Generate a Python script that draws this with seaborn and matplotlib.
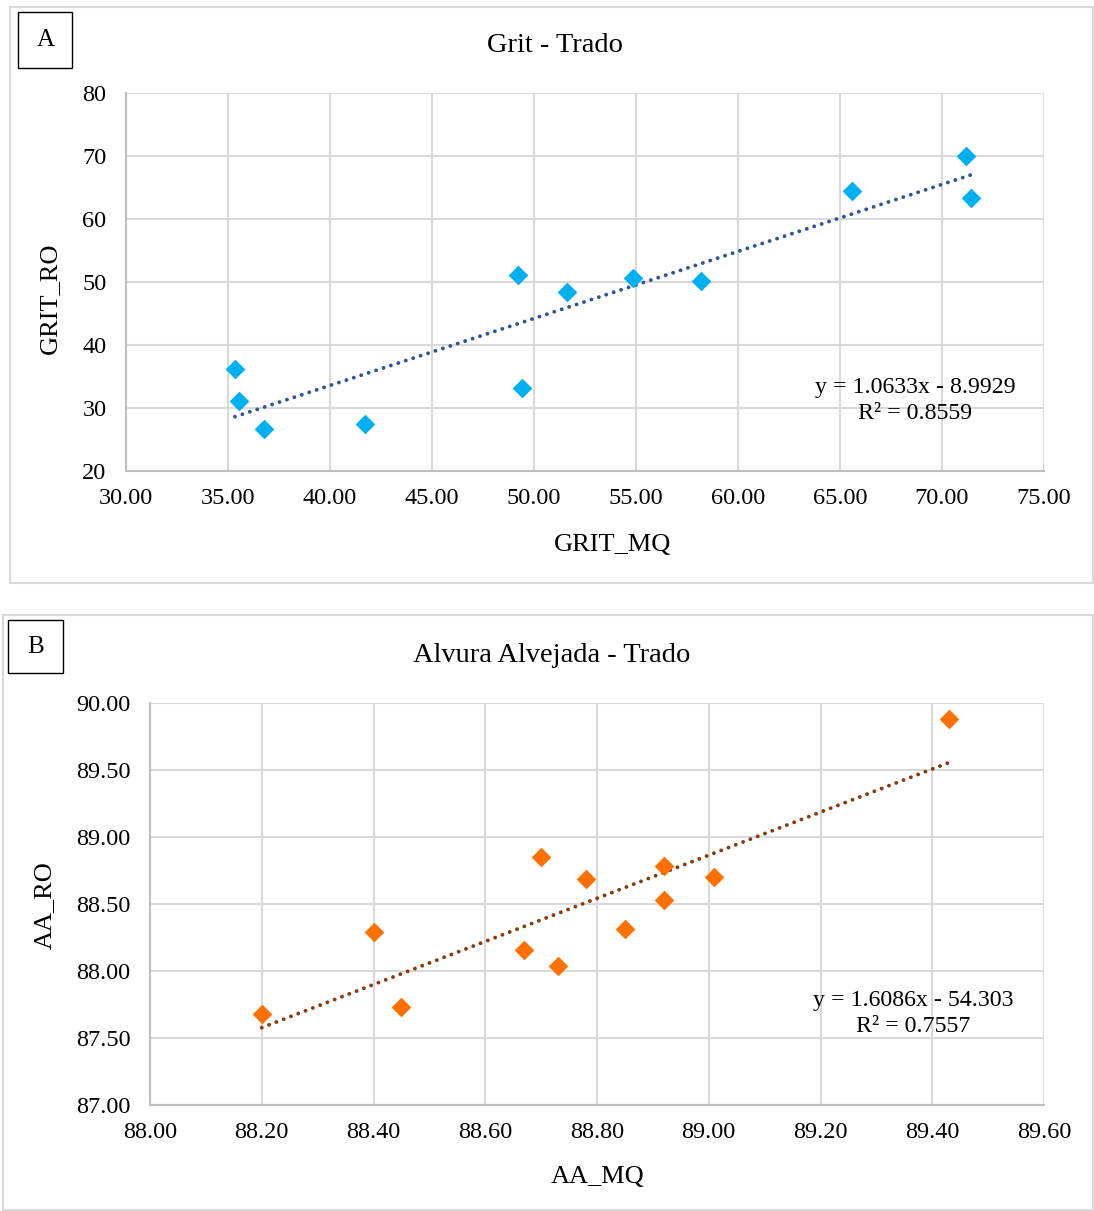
import numpy as np
import pandas as pd
import seaborn as sns
import matplotlib.pyplot as plt
from matplotlib.patches import Rectangle
from matplotlib.ticker import FormatStrFormatter

# Panel A data (Grit - Trado)
grit_mq = [35.34, 35.54, 36.76, 41.70, 49.20, 49.40, 51.60, 54.85, 58.20, 65.60, 71.20, 71.40]
grit_ro = [36.2, 31.1, 26.7, 27.5, 51.1, 33.2, 48.4, 50.6, 50.2, 64.4, 70.0, 63.3]

# Panel B data (Alvura Alvejada - Trado)
aa_mq = [88.20, 88.40, 88.45, 88.67, 88.70, 88.73, 88.78, 88.85, 88.92, 88.92, 89.01, 89.43]
aa_ro = [87.68, 88.29, 87.73, 88.16, 88.85, 88.04, 88.69, 88.31, 88.78, 88.53, 88.70, 89.88]

eq_a = "y = 1.0633x - 8.9929\nR² = 0.8559"
eq_b = "y = 1.6086x - 54.303\nR² = 0.7557"

df_a = pd.DataFrame({"GRIT_MQ": grit_mq, "GRIT_RO": grit_ro})
df_b = pd.DataFrame({"AA_MQ": aa_mq, "AA_RO": aa_ro})

sns.set_style("white")
plt.rcParams['font.family'] = ['Liberation Serif', 'DejaVu Serif']
plt.rcParams['text.color'] = 'black'

W, H = 1094, 1211
fig = plt.figure(figsize=(W / 100, H / 100), dpi=100)


def box(x0, y0, x1, y1, **kw):
    # rectangle in pixel coords (top-left origin)
    fig.patches.append(Rectangle((x0 / W, 1 - y1 / H), (x1 - x0) / W, (y1 - y0) / H,
                                 transform=fig.transFigure, fill=False, **kw))


def panel(df, xcol, ycol, rect, xlim, ylim, xstep, ystep, xfmt, yfmt,
          pt_color, line_color, eq, eq_pos):
    l, t, r, b = rect
    ax = fig.add_axes([l / W, 1 - b / H, (r - l) / W, (b - t) / H])
    sns.regplot(data=df, x=xcol, y=ycol, ax=ax, ci=None, marker='D',
                scatter_kws=dict(color=pt_color, s=100, linewidths=0, zorder=3, alpha=1),
                line_kws=dict(color=line_color, lw=2.8, linestyle=(0, (0.01, 2.0)),
                              dash_capstyle='round', zorder=2))
    ax.set_xlim(*xlim)
    ax.set_ylim(*ylim)
    ax.set_xticks(np.arange(xlim[0], xlim[1] + xstep / 2, xstep))
    ax.set_yticks(np.arange(ylim[0], ylim[1] + ystep / 2, ystep))
    ax.xaxis.set_major_formatter(FormatStrFormatter(xfmt))
    ax.yaxis.set_major_formatter(FormatStrFormatter(yfmt))
    ax.grid(True, color='#d9d9d9', lw=1.5, zorder=0)
    ax.set_axisbelow(True)
    for s in ['top', 'right']:
        ax.spines[s].set_visible(False)
    for s in ['left', 'bottom']:
        ax.spines[s].set_color('#bfbfbf')
        ax.spines[s].set_linewidth(1.5)
    ax.tick_params(axis='x', length=0, labelsize=17.5, pad=12, colors='black')
    ax.tick_params(axis='y', length=0, labelsize=17.5, pad=14, colors='black')
    ax.set_xlabel("")
    ax.set_ylabel("")
    ax.text(eq_pos[0], eq_pos[1], eq, ha='center', va='center', fontsize=17.2,
            linespacing=1.3)
    return ax


# Panel A
box(10, 7, 1093, 583, edgecolor='#d9d9d9', lw=1.5)
box(18, 12, 72, 68, edgecolor='black', lw=1)
fig.text(46 / W, 1 - 40 / H, "A", ha='center', va='center', fontsize=18)
fig.text(555 / W, 1 - 45 / H, "Grit - Trado", ha='center', va='center', fontsize=20.5)
panel(df_a, "GRIT_MQ", "GRIT_RO", (126, 93, 1044, 471), (30, 75), (20, 80), 5, 10,
      '%.2f', '%d', '#00b0f0', '#2f5597', eq_a, (68.7, 31.15))
fig.text(613 / W, 1 - 545 / H, "GRIT_MQ", ha='center', va='center', fontsize=19)
fig.text(50 / W, 1 - 298 / H, "GRIT_RO", ha='center', va='center', fontsize=19,
         rotation=90)

# Panel B
box(3, 615, 1093, 1210, edgecolor='#d9d9d9', lw=1.5)
box(8, 620, 63, 673, edgecolor='black', lw=1)
fig.text(36 / W, 1 - 647 / H, "B", ha='center', va='center', fontsize=18)
fig.text(552 / W, 1 - 655 / H, "Alvura Alvejada - Trado", ha='center', va='center',
         fontsize=20.5)
panel(df_b, "AA_MQ", "AA_RO", (150, 703, 1044, 1105), (88.0, 89.6), (87.0, 90.0), 0.2, 0.5,
      '%.2f', '%.2f', '#ff7000', '#843c0c', eq_b, (89.366, 87.68))
fig.text(598 / W, 1 - 1177 / H, "AA_MQ", ha='center', va='center', fontsize=19)
fig.text(45 / W, 1 - 905 / H, "AA_RO", ha='center', va='center', fontsize=19,
         rotation=90)

fig.savefig("out.png", dpi=100)
